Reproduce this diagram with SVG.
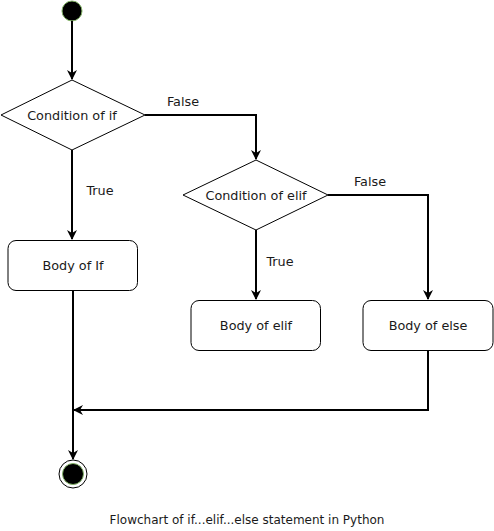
<svg xmlns="http://www.w3.org/2000/svg" width="494" height="531" viewBox="0 0 494 531">
<style>
.shape{fill:#fff;stroke:#000;stroke-width:1}
.t{font-family:"DejaVu Sans",Verdana,sans-serif;font-size:12.8px;fill:#1a1a1a;text-anchor:middle;dominant-baseline:central}
.lbl{font-family:"DejaVu Sans",Verdana,sans-serif;font-size:12.8px;fill:#1a1a1a;text-anchor:middle;dominant-baseline:central}
.edge{fill:none;stroke:#000;stroke-width:2}
</style>
<defs>
<marker id="arr" viewBox="0 0 10 10" refX="9" refY="5" markerWidth="5" markerHeight="5" orient="auto" markerUnits="strokeWidth">
<path d="M0,0 L10,5 L0,10 L3,5 Z" fill="#000"/>
</marker>
</defs>
<rect width="494" height="531" fill="#fff"/>
<g id="start"><circle cx="72" cy="11" r="10" fill="#000" stroke="#82b366" stroke-width="1"/></g>
<g id="cond-if"><polygon class="shape" points="72,80 145,115 72,150 1,115"/><text class="t" x="72" y="115">Condition of if</text></g>
<g id="cond-elif"><polygon class="shape" points="256,160 328,195 256,230 183,195"/><text class="t" x="256" y="195">Condition of elif</text></g>
<g id="body-if"><rect class="shape" x="8" y="240.5" width="129.5" height="50" rx="8"/><text class="t" x="73" y="265.5">Body of If</text></g>
<g id="body-elif"><rect class="shape" x="191" y="300.5" width="129.5" height="50" rx="8"/><text class="t" x="256" y="325.5">Body of elif</text></g>
<g id="body-else"><rect class="shape" x="363" y="300.5" width="130" height="50" rx="8"/><text class="t" x="428" y="325.5">Body of else</text></g>
<g id="end"><circle cx="73" cy="474" r="14" fill="#fff" stroke="#000" stroke-width="1"/><circle cx="73" cy="474" r="10.5" fill="#000" stroke="#82b366" stroke-width="1"/></g>
<g id="connectors">
<path class="edge" d="M72,21 V79" marker-end="url(#arr)"/>
<path class="edge" d="M145,115 H256 V159" marker-end="url(#arr)"/>
<path class="edge" d="M72,150 V239" marker-end="url(#arr)"/>
<path class="edge" d="M256,230 V299" marker-end="url(#arr)"/>
<path class="edge" d="M328,195 H428 V299" marker-end="url(#arr)"/>
<path class="edge" d="M73,290.5 V459" marker-end="url(#arr)"/>
<path class="edge" d="M428,350.5 V410 H74" marker-end="url(#arr)"/>
<text class="lbl" x="183" y="101">False</text>
<text class="lbl" x="100" y="190">True</text>
<text class="lbl" x="370" y="181">False</text>
<text class="lbl" x="280" y="261">True</text>
</g>
<text class="lbl" x="247" y="520" style="font-size:12px">Flowchart of if...elif...else statement in Python</text>
</svg>
